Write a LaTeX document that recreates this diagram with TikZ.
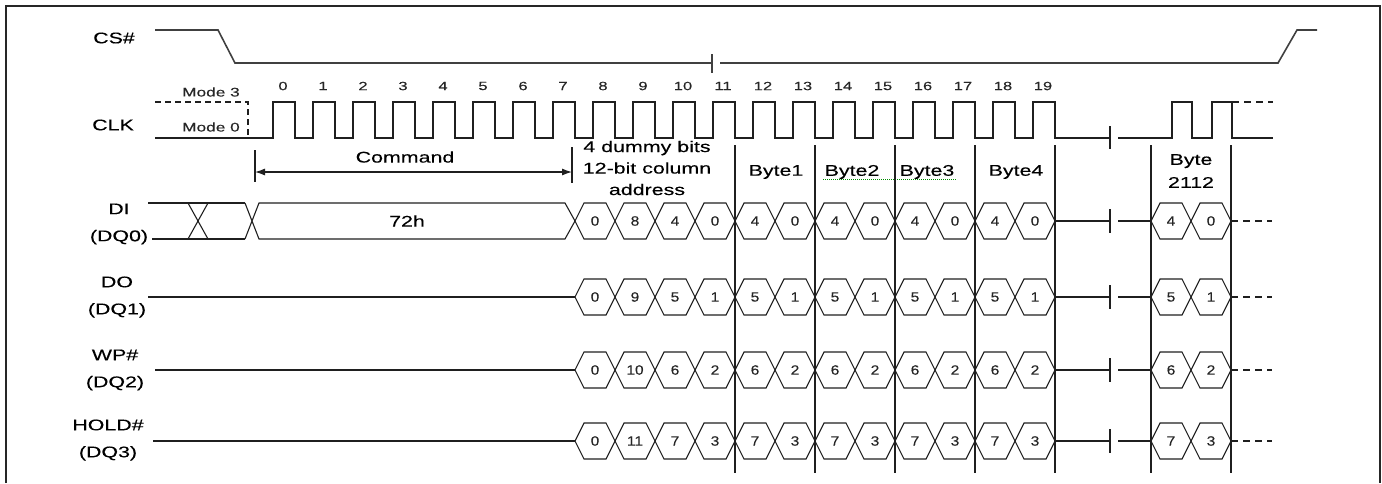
\documentclass[tikz,border=0pt]{standalone}
\usepackage{fontspec}
\setmainfont{Liberation Sans}[FakeStretch=1.38, FakeBold=0.2]
\newfontfamily\digitfont{Liberation Sans}[FakeStretch=1.15, FakeBold=0.15]
\usetikzlibrary{arrows.meta}
\newcommand\hexbub[5]{%
  \draw[wave] (#2,#4) -- ({#2+9},{#4-18}) -- ({#3-9},{#4-18}) -- (#3,#4) -- ({#3-9},{#4+18}) -- ({#2+9},{#4+18}) -- cycle;
  \node[dig] (#1) at ({(#2+#3)/2},#4) {#5};}
\begin{document}
\begin{tikzpicture}[x=1pt,y=-1pt,
  wave/.style={line width=1.1pt, black!88, line join=miter},
  cswave/.style={line width=1.6pt, black!75},
  lbl/.style={font=\fontsize{15.5}{27}\selectfont, inner sep=0pt, align=center, text=black},
  small/.style={font=\fontsize{12.5}{14}\selectfont, inner sep=0pt, text=black!85},
  num/.style={font=\fontsize{12}{13}\selectfont, inner sep=0pt, text=black!85},
  dig/.style={font=\digitfont\fontsize{13.5}{14}\selectfont, inner sep=0pt, text=black!85},
  dashwave/.style={wave, dash pattern=on 7pt off 5pt},
]
\useasboundingbox (0,0) rectangle (1382,483);
% frame
\draw[line width=2pt, black!85] (6,483) -- (6,6) -- (1380,6) -- (1380,483);

% CS#
\node[lbl] (cs) at (114,38) {CS\#};
\draw[cswave] (155,30) -- (218,30) -- (235,63) -- (712,63);
\draw[cswave] (712,54) -- (712,73);
\draw[cswave] (720,63) -- (1278,63) -- (1297,30) -- (1317,30);

% CLK
\node[lbl] (clk) at (113,125) {CLK};
\node[small] (m3) at (211,92) {Mode 3};
\node[small] (m0) at (211,127) {Mode 0};
\draw[wave, dash pattern=on 6pt off 4pt] (155,102) -- (248,102) -- (248,138);
\draw[wave] (155,138) foreach \k in {0,...,19} { -- ({273+40*\k},138) -- ({273+40*\k},102) -- ({295+40*\k},102) -- ({295+40*\k},138) } -- (1110,138);
\draw[wave] (1110,126) -- (1110,149);
\draw[wave] (1118,138) -- (1172,138) -- (1172,102) -- (1192,102) -- (1192,138) -- (1212,138) -- (1212,102) -- (1232,102) -- (1232,138) -- (1273,138);
\draw[dashwave] (1232,102) -- (1273,102);
\foreach \k in {0,...,19} \node[num] (n\k) at ({283+40*\k},86) {\k};

% Command arrow
\draw[wave] (255,150) -- (255,182);
\draw[wave] (572,147) -- (572,183);
\draw[wave, {Latex[length=10pt,width=7pt]}-{Latex[length=10pt,width=7pt]}] (255,172) -- (572,172);
\node[lbl] (cmd) at (405,157) {Command};

% byte labels
\node[lbl, font=\fontsize{15.5}{21.5}\selectfont] (addr) at (647,168) {4 dummy bits\\12-bit column\\address};
\node[lbl] (by1) at (776,172) {Byte1};
\node[lbl] (by2) at (852,172) {Byte2};
\node[lbl] (by3) at (927,172) {Byte3};
\node[lbl] (by4) at (1016,172) {Byte4};
\node[lbl, font=\fontsize{15.5}{23}\selectfont] (by2112) at (1191,171) {Byte\\2112};
\draw[green!55!black, densely dotted, line width=1pt] (823,179) -- (957,179);

% separators
\foreach \x in {735,815,895,975,1055,1151,1231} \draw[wave] (\x,145) -- (\x,473);

% signal labels
\node[lbl] (di) at (119,224) {DI\\(DQ0)};
\node[lbl] (do) at (117,297) {DO\\(DQ1)};
\node[lbl] (wp) at (115,370) {WP\#\\(DQ2)};
\node[lbl] (hold) at (108,440) {HOLD\#\\(DQ3)};

% DI lead-in
\draw[wave] (148,203) -- (245,203);
\draw[wave] (152,239) -- (245,239);
\draw[wave] (188,203) -- (208,239);
\draw[wave] (188,239) -- (208,203);
\draw[wave] (245,203) -- (259,239) -- (565,239) -- (575,221) -- (565,203) -- (259,203) -- (245,239);
\node[lbl] (h72) at (407,221) {72h};

% other lead-ins
\draw[wave] (148,297) -- (575,297);
\draw[wave] (155,370) -- (575,370);
\draw[wave] (153,441) -- (575,441);

% bubbles
\foreach \m/\pa/\pb/\pc/\pd [count=\r] in {221/0/8/4/0, 297/0/9/5/1, 370/0/10/6/2, 441/0/11/7/3} {
  \hexbub{r\r-b0}{575}{615}{\m}{\pa}
  \hexbub{r\r-b1}{615}{655}{\m}{\pb}
  \hexbub{r\r-b2}{655}{695}{\m}{\pc}
  \hexbub{r\r-b3}{695}{735}{\m}{\pd}
  \foreach \j in {0,...,3} {
    \pgfmathtruncatemacro\xa{735+80*\j}
    \pgfmathtruncatemacro\xb{775+80*\j}
    \pgfmathtruncatemacro\xc{815+80*\j}
    \hexbub{r\r-c\j a}{\xa}{\xb}{\m}{\pc}
    \hexbub{r\r-c\j b}{\xb}{\xc}{\m}{\pd}
  }
  \hexbub{r\r-e0}{1151}{1191}{\m}{\pc}
  \hexbub{r\r-e1}{1191}{1231}{\m}{\pd}
  \draw[wave] (1055,\m) -- (1110,\m);
  \draw[wave] (1110,{\m-12}) -- (1110,{\m+12});
  \draw[wave] (1118,\m) -- (1151,\m);
  \draw[dashwave] (1231,\m) -- (1272,\m);
}
\end{tikzpicture}
\end{document}
